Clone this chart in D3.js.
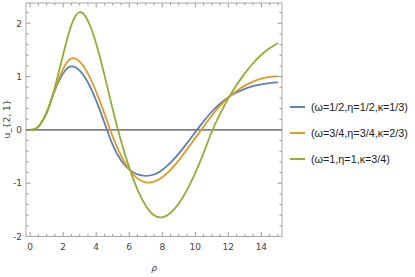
<!DOCTYPE html>
<html>
<head>
<meta charset="utf-8">
<script src="https://cdn.jsdelivr.net/npm/d3@7"></script>
<style>
  body { margin: 0; background: #fff; }
  svg { display: block; font-family: "DejaVu Sans", sans-serif; }
  .tick-label { font-size: 9px; fill: #444; }
  .label { font-size: 9px; fill: #444; }
  .legend-text { font-size: 10.8px; fill: #222; font-family: "Liberation Sans", Arial, sans-serif; }
</style>
</head>
<body>
<div id="chart"></div>
<script>
const rho = [0, 0.25, 0.5, 0.75, 1, 1.25, 1.5, 2, 2.5, 3, 3.5, 4, 4.5, 5, 5.5, 6, 6.5, 7, 7.5,
	8, 8.5, 9, 9.5, 10, 10.5, 11, 11.5, 12, 12.5, 13, 13.5, 14, 14.5, 15];

const uBlue = [0, 0.01, 0.06, 0.17, 0.32, 0.53, 0.745, 1.06, 1.19, 1.112, 0.888, 0.55, 0.135, -0.282,
	-0.57, -0.746, -0.836, -0.862, -0.837, -0.751, -0.616, -0.444, -0.249, -0.042, 0.16, 0.34,
	0.49, 0.61, 0.70, 0.77, 0.82, 0.855, 0.878, 0.89];
const uOrange = [0, 0.01, 0.06, 0.17, 0.32, 0.53, 0.761, 1.143, 1.34, 1.281, 1.056, 0.714, 0.305, -0.126,
	-0.481, -0.742, -0.91, -0.984, -0.973, -0.89, -0.752, -0.572, -0.366, -0.15, 0.063, 0.27,
	0.45, 0.605, 0.73, 0.83, 0.905, 0.96, 0.995, 1.01];
const uGreen = [0, 0.01, 0.06, 0.17, 0.32, 0.54, 0.80, 1.414, 1.97, 2.21, 2.043, 1.615, 1.027, 0.388,
	-0.202, -0.708, -1.121, -1.424, -1.603, -1.64, -1.56, -1.383, -1.125, -0.805, -0.437, -0.035,
	0.30, 0.59, 0.84, 1.06, 1.25, 1.41, 1.53, 1.625];

const seriesNames = ["(ω=1/2,η=1/2,κ=1/3)", "(ω=3/4,η=3/4,κ=2/3)", "(ω=1,η=1,κ=3/4)"];
const seriesColors = ["#5E81B5", "#E19C24", "#8FB032"];

const xTicks = [0, 2, 4, 6, 8, 10, 12, 14];
const yTicks = [-2, -1, 0, 1, 2];

const width = 415, height = 277;
const frame = {left: 26, right: 282, top: 3, bottom: 236.5};

const svg = d3.select("#chart").append("svg")
	.attr("width", width)
	.attr("height", height);

const x = d3.scaleLinear().domain([-0.25, 15.25]).range([frame.left, frame.right]);
const y = d3.scaleLinear().domain([-2, 2.38]).range([frame.bottom, frame.top]);

const tickColor = "#999";
const xMinor = d3.range(0, 15.01, 0.5).filter(v => xTicks.indexOf(v) < 0);
const yMinor = d3.range(-2, 2.39, 0.2).map(v => Math.round(v * 10) / 10).filter(v => yTicks.indexOf(v) < 0);

// Ticks on all four sides, pointing inward
function frameTicks(values, len) {
	svg.append("g").selectAll("line").data(values).enter().append("line")
		.attr("x1", d => x(d)).attr("x2", d => x(d))
		.attr("y1", frame.bottom).attr("y2", frame.bottom - len)
		.attr("stroke", tickColor);
	svg.append("g").selectAll("line").data(values).enter().append("line")
		.attr("x1", d => x(d)).attr("x2", d => x(d))
		.attr("y1", frame.top).attr("y2", frame.top + len)
		.attr("stroke", tickColor);
}
function frameTicksY(values, len) {
	svg.append("g").selectAll("line").data(values).enter().append("line")
		.attr("y1", d => y(d)).attr("y2", d => y(d))
		.attr("x1", frame.left).attr("x2", frame.left + len)
		.attr("stroke", tickColor);
	svg.append("g").selectAll("line").data(values).enter().append("line")
		.attr("y1", d => y(d)).attr("y2", d => y(d))
		.attr("x1", frame.right).attr("x2", frame.right - len)
		.attr("stroke", tickColor);
}
frameTicks(xTicks, 4.5);
frameTicks(xMinor, 2.5);
frameTicksY(yTicks, 4.5);
frameTicksY(yMinor, 2.5);

// Frame
svg.append("rect")
	.attr("x", frame.left).attr("y", frame.top)
	.attr("width", frame.right - frame.left)
	.attr("height", frame.bottom - frame.top)
	.attr("fill", "none")
	.attr("stroke", "#aaa");

// Zero line
svg.append("line")
	.attr("x1", frame.left).attr("x2", frame.right)
	.attr("y1", y(0)).attr("y2", y(0))
	.attr("stroke", "#808080")
	.attr("stroke-width", 1.6);

// Tick labels
svg.append("g").selectAll("text").data(xTicks).enter().append("text")
	.classed("tick-label", true)
	.attr("x", d => x(d)).attr("y", 250)
	.attr("text-anchor", "middle")
	.text(d => d);
svg.append("g").selectAll("text").data(yTicks).enter().append("text")
	.classed("tick-label", true)
	.attr("x", 22).attr("y", d => y(d) + 3.3)
	.attr("text-anchor", "end")
	.text(d => d);

// Axis labels
svg.append("text")
	.classed("label", true)
	.attr("transform", "translate(10,119) rotate(-90)")
	.attr("text-anchor", "middle")
	.text("u_{2, 1}");
svg.append("text")
	.classed("label", true)
	.attr("x", 154).attr("y", 271)
	.attr("text-anchor", "middle")
	.style("font-style", "italic")
	.text("ρ");

// Curves
const allSeries = [uBlue, uOrange, uGreen];
const line = d3.line()
	.x((d, i) => x(rho[i]))
	.y(d => y(d))
	.curve(d3.curveNatural);
allSeries.forEach((vals, i) => {
	svg.append("path")
		.datum(vals)
		.attr("d", line)
		.attr("fill", "none")
		.attr("stroke", seriesColors[i])
		.attr("stroke-width", 1.8);
});

// Legend
const legend = svg.append("g").attr("transform", "translate(290,107)");
const item = legend.selectAll("g").data(seriesNames).enter().append("g")
	.attr("transform", (d, i) => "translate(0," + (i * 26) + ")");
item.append("line")
	.attr("x1", 0).attr("x2", 15).attr("y1", 0).attr("y2", 0)
	.attr("stroke", (d, i) => seriesColors[i])
	.attr("stroke-width", 2);
item.append("text")
	.classed("legend-text", true)
	.attr("x", 21).attr("y", 4)
	.text(d => d);
</script>
</body>
</html>
